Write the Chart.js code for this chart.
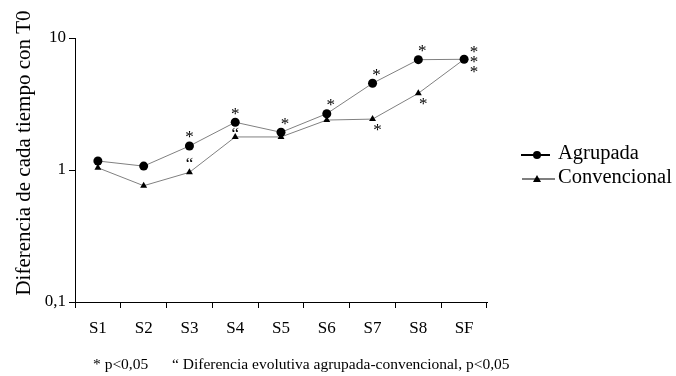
<!DOCTYPE html>
<html>
<head>
<meta charset="utf-8">
<script src="https://cdn.jsdelivr.net/npm/chart.js@4.4.0/dist/chart.umd.min.js"></script>
<style>
  html, body { margin: 0; padding: 0; background: #fff; }
</style>
</head>
<body>
<canvas id="chart" width="676" height="376"></canvas>
<script>
const categories = ['S1', 'S2', 'S3', 'S4', 'S5', 'S6', 'S7', 'S8', 'SF']
const agrupada = [1.17, 1.07, 1.52, 2.30, 1.93, 2.67, 4.54, 6.85, 6.9]
const convencional = [1.04, 0.76, 0.96, 1.78, 1.78, 2.39, 2.43, 3.81, 6.9]
const yTicks = [0.1, 1, 10]
const yTickLabels = ['0,1', '1', '10']

// significance marks next to each point
const sigAgrupada = ['', '', '*', '*', '*', '*', '*', '*', '*']
const sigConvencional = ['', '', '', '', '', '', '*', '*', '*']
const sigFinal = ['', '', '', '', '', '', '', '', '*']
const difEvolutiva = ['', '', '\u201C', '\u201C', '', '', '', '', '']

const yTitle = 'Diferencia de cada tiempo con T0'
const footA = '* p<0,05'
const footB = '\u201C Diferencia evolutiva agrupada-convencional, p<0,05'

const FONT = "'Liberation Serif', 'Times New Roman', serif"

const extras = {
  id: 'extras',
  afterDraw(chart) {
    const ctx = chart.ctx
    const x = chart.scales.x
    const y = chart.scales.y
    ctx.save()
    ctx.fillStyle = '#000'

    // y axis title
    ctx.save()
    ctx.translate(24, 153)
    ctx.rotate(-Math.PI / 2)
    ctx.font = '21px ' + FONT
    ctx.textAlign = 'center'
    ctx.textBaseline = 'middle'
    ctx.fillText(yTitle, 0, 0)
    ctx.restore()

    // asterisks and quote marks
    ctx.font = '17px ' + FONT
    ctx.textAlign = 'center'
    ctx.textBaseline = 'middle'
    const last = categories.length - 1
    categories.forEach((c, i) => {
      const px = x.getPixelForValue(i)
      const pa = y.getPixelForValue(agrupada[i])
      const pc = y.getPixelForValue(convencional[i])
      if (i === last) {
        // stacked to the right of the shared end point
        if (sigAgrupada[i]) ctx.fillText(sigAgrupada[i], px + 10, pa - 7)
        if (sigFinal[i]) ctx.fillText(sigFinal[i], px + 10, pa + 3)
        if (sigConvencional[i]) ctx.fillText(sigConvencional[i], px + 10, pa + 13)
        return
      }
      const dx = i >= 4 ? 4 : 0
      if (sigAgrupada[i]) ctx.fillText(sigAgrupada[i], px + dx, pa - 8)
      if (sigConvencional[i]) ctx.fillText(sigConvencional[i], px + 5, pc + 11)
      if (difEvolutiva[i]) ctx.fillText(difEvolutiva[i], px, (pa + pc) / 2 + 5)
    })

    // legend
    const drawEntry = (yy, label, style, lw, x1, x2) => {
      ctx.strokeStyle = '#000'
      ctx.lineWidth = lw
      ctx.beginPath()
      ctx.moveTo(x1, yy)
      ctx.lineTo(x2, yy)
      ctx.stroke()
      ctx.beginPath()
      if (style === 'circle') {
        ctx.arc(537, yy, 4, 0, Math.PI * 2)
      } else {
        ctx.moveTo(537, yy - 4)
        ctx.lineTo(541, yy + 3)
        ctx.lineTo(533, yy + 3)
        ctx.closePath()
      }
      ctx.fill()
      ctx.font = '20.5px ' + FONT
      ctx.textAlign = 'left'
      ctx.textBaseline = 'middle'
      ctx.fillText(label, 558, yy - 1)
    }
    drawEntry(155, 'Agrupada', 'circle', 2, 521, 550)
    drawEntry(179, 'Convencional', 'triangle', 1.2, 522, 555)

    // footnote
    ctx.font = '15.5px ' + FONT
    ctx.textAlign = 'left'
    ctx.textBaseline = 'middle'
    ctx.fillText(footA, 93, 365)
    ctx.fillText(footB, 172, 365)
    ctx.restore()
  }
}

new Chart(document.getElementById('chart'), {
  type: 'line',
  data: {
    labels: categories,
    datasets: [
      {
        label: 'Agrupada',
        data: agrupada,
        borderColor: '#808080',
        borderWidth: 1,
        pointStyle: 'circle',
        pointRadius: 4.5,
        pointBackgroundColor: '#000',
        pointBorderColor: '#000',
        pointBorderWidth: 0
      },
      {
        label: 'Convencional',
        data: convencional,
        borderColor: '#808080',
        borderWidth: 1,
        pointStyle: 'triangle',
        pointRadius: 4,
        pointBackgroundColor: '#000',
        pointBorderColor: '#000',
        pointBorderWidth: 0
      }
    ]
  },
  options: {
    responsive: false,
    animation: false,
    layout: { padding: { top: 38, right: 189, left: 0, bottom: 0 } },
    plugins: {
      legend: { display: false },
      tooltip: { enabled: false }
    },
    scales: {
      x: {
        offset: true,
        grid: { display: true, drawOnChartArea: false, offset: true, tickLength: 6, color: '#000' },
        border: { color: '#000', width: 1 },
        ticks: { color: '#000', font: { family: FONT, size: 17 }, padding: 10 },
        afterFit(scale) { scale.height = 74 }
      },
      y: {
        type: 'logarithmic',
        min: 0.1,
        max: 10,
        afterBuildTicks(scale) { scale.ticks = yTicks.map(v => ({ value: v })) },
        grid: { display: true, drawOnChartArea: false, tickLength: 6, color: '#000' },
        border: { color: '#000', width: 1 },
        ticks: {
          color: '#000',
          font: { family: FONT, size: 17 },
          padding: 3,
          callback: (v) => yTickLabels[yTicks.indexOf(v)]
        },
        afterFit(scale) { scale.width = 75 }
      }
    }
  },
  plugins: [extras]
})
</script>
</body>
</html>
